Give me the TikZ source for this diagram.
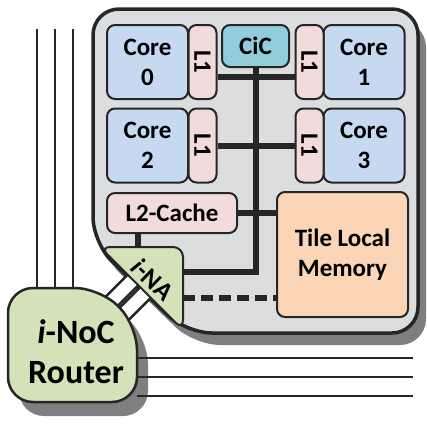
\documentclass[tikz,border=0pt]{standalone}
\usepackage{fontspec}
\setmainfont{Carlito}

\definecolor{coreblue}{HTML}{C6D9F1}
\definecolor{cachepink}{HTML}{F2DCDB}
\definecolor{cicteal}{HTML}{92CDDC}
\definecolor{mempeach}{HTML}{FBD5B5}
\definecolor{nocgreen}{HTML}{D3E2B8}
\definecolor{tilegray}{HTML}{DCDDDF}
\definecolor{shadowgray}{HTML}{7F7F7F}
\definecolor{linedark}{HTML}{262626}

\def\tilepath{(93,150) -- (93,9) -- (418,9) -- (418,333) -- (186,333) -- (93,243) -- cycle}
\def\routerpath{(8,345) -- (8,288) -- (100,288) -- (137,325) -- (137,402) -- (8,402) -- cycle}
\def\napath{(141,247) -- (183,247) -- (183,330) -- (100,247) -- cycle}

\tikzset{
  box/.style={draw=linedark, line width=2pt, rounded corners=8pt, inner sep=0pt,
    align=center, font=\fontsize{25}{30}\selectfont\bfseries},
  core/.style={box, fill=coreblue, minimum width=81pt, minimum height=74pt},
  lone/.style={box, fill=cachepink, minimum width=74pt, minimum height=28pt, rotate=-90},
  bus/.style={line width=6pt, draw=linedark},
  wire/.style={line width=1.5pt, draw=linedark},
  port/.style={draw=linedark, line width=2.5pt, fill=white, rotate=-45,
    minimum width=15pt, minimum height=34pt, inner sep=0pt}
}

\begin{document}
\begin{tikzpicture}[x=1pt, y=-1pt, line join=round]
  \useasboundingbox (0,0) rectangle (427,431);
  % tile
  \fill[shadowgray, shift={(8,12)}, rounded corners=26pt] \tilepath;
  \draw[linedark, line width=3.5pt, fill=tilegray, rounded corners=26pt] \tilepath;
  % router
  \fill[shadowgray, shift={(11,14)}, rounded corners=25pt] \routerpath;
  \coordinate (rtrtop) at (0,288);
  \coordinate (rtrright) at (137,0);
  \coordinate (w1) at (37,29);
  \coordinate (w2) at (55,29);
  \coordinate (w3) at (73,29);
  \coordinate (h1) at (413,358);
  \coordinate (h2) at (413,377);
  \coordinate (h3) at (413,396);
  \foreach \w in {w1,w2,w3} \draw[wire] (\w) -- (\w |- rtrtop);
  \foreach \h in {h1,h2,h3} \draw[wire] (\h) -- (\h -| rtrright);
  \node[port] (port1) at (122,291) {};
  \node[port] (port2) at (134.5,303.5) {};
  \draw[linedark, line width=2.5pt, fill=nocgreen, rounded corners=25pt] \routerpath;
  \node[align=center, font=\fontsize{34}{40}\selectfont\bfseries] (router) at (76,352)
    {\textit{i}-NoC\\Router};
  % network adapter
  \draw[linedark, line width=2pt, fill=nocgreen, rounded corners=10pt] \napath;
  \node[rotate=-44, inner sep=0pt, font=\fontsize{26}{30}\selectfont\bfseries] (ina) at (153,279) {\textit{i}-NA};
  \coordinate (natop) at (138,247);
  \coordinate (busend) at (183,272);
  \coordinate (nadash) at (183,298);
  % cores and caches
  \node[core] (core0) at (147.5,62) {Core\\0};
  \node[core] (core1) at (364,62) {Core\\1};
  \node[core] (core2) at (147.5,145.5) {Core\\2};
  \node[core] (core3) at (364,145.5) {Core\\3};
  \node[lone] (l1a) at (202.5,62) {L1};
  \node[lone] (l1b) at (309.5,62) {L1};
  \node[lone] (l1c) at (202.5,145.5) {L1};
  \node[lone] (l1d) at (309.5,145.5) {L1};
  \node[box, fill=cicteal, minimum width=67pt, minimum height=42pt] (cic) at (255.5,46) {CiC};
  \node[box, fill=cachepink, minimum width=130pt, minimum height=40pt] (l2) at (172,213) {L2-Cache};
  \node[box, fill=mempeach, minimum width=131pt, minimum height=125pt] (tlm) at (342.5,254.5)
    {Tile Local\\Memory};
  % buses
  \draw[bus, line join=miter] (cic.south) |- (busend);
  \draw[bus] ([yshift=-15pt]l1a.north) -- ([yshift=-15pt]l1b.south);
  \draw[bus] (l1c.north) -- (l1d.south);
  \draw[bus] (l2.east) -- (l2.east -| tlm.west);
  \draw[bus] (natop |- l2.south) -- (natop);
  \draw[bus, dash pattern=on 12pt off 6pt] (nadash) -- (nadash -| tlm.west);
\end{tikzpicture}
\end{document}
